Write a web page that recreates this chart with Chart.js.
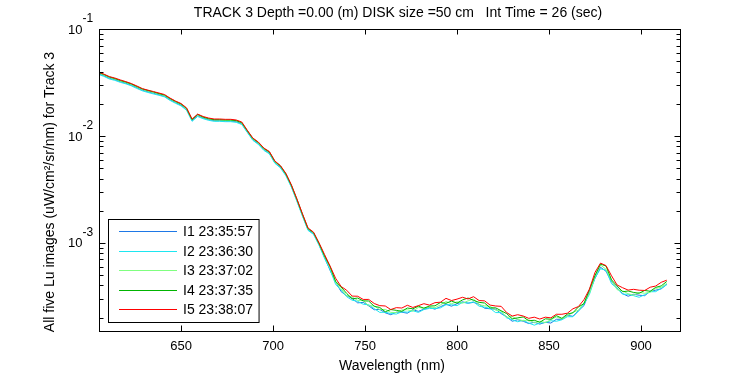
<!DOCTYPE html>
<html>
<head>
<meta charset="utf-8">
<script src="https://cdn.jsdelivr.net/npm/chart.js@4/dist/chart.umd.min.js"></script>
<style>
  html, body { margin: 0; padding: 0; background: #fff; }
</style>
</head>
<body>
<canvas id="chart" width="750" height="375"></canvas>
<script>
// wavelength grid (nm)
var wavelengths = [605, 608, 611, 614, 617, 620, 623, 626, 629, 632, 635, 638, 641, 644, 647, 650, 653, 656, 659, 662,
  665, 668, 671, 674, 677, 680, 683, 686, 689, 692, 695, 698, 701, 704, 707, 710, 713, 716, 719, 722,
  725, 728, 731, 734, 737, 740, 743, 746, 749, 752, 755, 758, 761, 764, 767, 770, 773, 776, 779, 782,
  785, 788, 791, 794, 797, 800, 803, 806, 809, 812, 815, 818, 821, 824, 827, 830, 833, 836, 839, 842,
  845, 848, 851, 854, 857, 860, 863, 866, 869, 872, 875, 878, 881, 884, 887, 890, 893, 896, 899, 902,
  905, 908, 911, 914];

var seriesLabels = ["I1 23:35:57", "I2 23:36:30", "I3 23:37:02", "I4 23:37:35", "I5 23:38:07"];
var seriesColors = ["#1e78e6", "#1ee6f0", "#80ff80", "#00b400", "#ff0000"];

var lu1 = [3.82e-2, 3.66e-2, 3.47e-2, 3.36e-2, 3.22e-2, 3.11e-2, 2.98e-2, 2.83e-2, 2.68e-2, 2.59e-2,
  2.51e-2, 2.43e-2, 2.35e-2, 2.19e-2, 2.05e-2, 1.94e-2, 1.76e-2, 1.39e-2, 1.55e-2, 1.47e-2,
  1.42e-2, 1.39e-2, 1.39e-2, 1.38e-2, 1.38e-2, 1.36e-2, 1.30e-2, 1.09e-2, 9.24e-3, 8.47e-3,
  7.45e-3, 6.90e-3, 5.63e-3, 5.11e-3, 4.30e-3, 3.36e-3, 2.48e-3, 1.80e-3, 1.33e-3, 1.22e-3,
  9.64e-4,
  7.33e-4, 5.55e-4, 4.32e-4, 3.50e-4, 3.21e-4, 3.03e-4, 2.75e-4, 2.78e-4, 2.58e-4, 2.37e-4,
  2.39e-4, 2.22e-4, 2.13e-4, 2.25e-4, 2.25e-4, 2.20e-4, 2.37e-4, 2.29e-4, 2.40e-4, 2.49e-4,
  2.40e-4, 2.53e-4, 2.67e-4, 2.56e-4, 2.70e-4, 2.81e-4, 2.73e-4, 2.78e-4, 2.67e-4, 2.45e-4,
  2.42e-4, 2.40e-4, 2.18e-4, 2.04e-4, 1.85e-4, 1.91e-4, 1.85e-4, 1.76e-4, 1.81e-4, 1.74e-4,
  1.81e-4, 1.78e-4, 1.93e-4, 1.93e-4, 2.10e-4, 2.06e-4, 2.32e-4, 2.59e-4, 3.49e-4, 4.66e-4,
  5.92e-4, 5.43e-4, 4.33e-4, 3.80e-4, 3.35e-4, 3.17e-4, 3.31e-4, 3.24e-4, 3.21e-4, 3.53e-4,
  3.61e-4, 3.72e-4, 4.10e-4];

var lu2 = [3.76e-2, 3.61e-2, 3.41e-2, 3.31e-2, 3.17e-2, 3.07e-2, 2.94e-2, 2.78e-2, 2.64e-2, 2.55e-2,
  2.47e-2, 2.40e-2, 2.32e-2, 2.15e-2, 2.02e-2, 1.91e-2, 1.74e-2, 1.37e-2, 1.52e-2, 1.45e-2,
  1.40e-2, 1.37e-2, 1.37e-2, 1.36e-2, 1.36e-2, 1.34e-2, 1.28e-2, 1.08e-2, 9.10e-3, 8.34e-3,
  7.33e-3, 6.80e-3, 5.55e-3, 5.03e-3, 4.24e-3, 3.31e-3, 2.44e-3, 1.78e-3, 1.31e-3, 1.20e-3,
  9.50e-4,
  7.18e-4, 5.61e-4, 4.10e-4, 3.61e-4, 3.14e-4, 2.91e-4, 2.84e-4, 2.67e-4, 2.64e-4, 2.43e-4,
  2.24e-4, 2.25e-4, 2.18e-4, 2.16e-4, 2.27e-4, 2.25e-4, 2.32e-4, 2.24e-4, 2.38e-4, 2.44e-4,
  2.43e-4, 2.47e-4, 2.64e-4, 2.64e-4, 2.59e-4, 2.78e-4, 2.73e-4, 2.81e-4, 2.56e-4, 2.50e-4,
  2.44e-4, 2.23e-4, 2.23e-4, 1.99e-4, 1.91e-4, 1.83e-4, 1.89e-4, 1.78e-4, 1.70e-4, 1.78e-4,
  1.80e-4, 1.87e-4, 1.85e-4, 1.91e-4, 2.04e-4, 2.04e-4, 2.30e-4, 2.67e-4, 3.31e-4, 4.71e-4,
  5.73e-4, 5.55e-4, 4.15e-4, 3.76e-4, 3.31e-4, 3.31e-4, 3.21e-4, 3.10e-4, 3.28e-4, 3.49e-4,
  3.50e-4, 3.76e-4, 4.06e-4];

var lu3 = [3.88e-2, 3.72e-2, 3.52e-2, 3.41e-2, 3.27e-2, 3.16e-2, 3.03e-2, 2.87e-2, 2.72e-2, 2.63e-2,
  2.55e-2, 2.47e-2, 2.39e-2, 2.22e-2, 2.08e-2, 1.97e-2, 1.79e-2, 1.41e-2, 1.57e-2, 1.49e-2,
  1.44e-2, 1.41e-2, 1.41e-2, 1.40e-2, 1.40e-2, 1.38e-2, 1.32e-2, 1.11e-2, 9.38e-3, 8.60e-3,
  7.56e-3, 7.01e-3, 5.72e-3, 5.19e-3, 4.37e-3, 3.41e-3, 2.52e-3, 1.83e-3, 1.35e-3, 1.24e-3,
  9.79e-4,
  7.48e-4, 5.90e-4, 4.28e-4, 3.72e-4, 3.21e-4, 3.12e-4, 2.90e-4, 2.90e-4, 2.58e-4, 2.58e-4,
  2.37e-4, 2.39e-4, 2.24e-4, 2.23e-4, 2.36e-4, 2.37e-4, 2.30e-4, 2.49e-4, 2.45e-4, 2.52e-4,
  2.48e-4, 2.63e-4, 2.83e-4, 2.70e-4, 2.81e-4, 2.73e-4, 2.87e-4, 2.99e-4, 2.64e-4, 2.58e-4,
  2.55e-4, 2.35e-4, 2.30e-4, 2.01e-4, 2.05e-4, 1.93e-4, 1.87e-4, 1.91e-4, 1.79e-4, 1.85e-4,
  1.80e-4, 1.91e-4, 2.03e-4, 1.95e-4, 2.08e-4, 2.24e-4, 2.35e-4, 2.75e-4, 3.38e-4, 4.86e-4,
  6.22e-4, 5.66e-4, 4.46e-4, 3.65e-4, 3.56e-4, 3.35e-4, 3.24e-4, 3.44e-4, 3.38e-4, 3.46e-4,
  3.76e-4, 3.84e-4, 4.19e-4];

var lu4 = [3.92e-2, 3.76e-2, 3.56e-2, 3.44e-2, 3.30e-2, 3.19e-2, 3.06e-2, 2.90e-2, 2.75e-2, 2.66e-2,
  2.58e-2, 2.49e-2, 2.41e-2, 2.24e-2, 2.10e-2, 1.99e-2, 1.81e-2, 1.42e-2, 1.59e-2, 1.50e-2,
  1.45e-2, 1.42e-2, 1.42e-2, 1.41e-2, 1.41e-2, 1.39e-2, 1.33e-2, 1.12e-2, 9.47e-3, 8.69e-3,
  7.64e-3, 7.08e-3, 5.78e-3, 5.24e-3, 4.41e-3, 3.44e-3, 2.55e-3, 1.85e-3, 1.36e-3, 1.25e-3,
  9.89e-4,
  7.56e-4, 6.02e-4, 4.37e-4, 3.87e-4, 3.37e-4, 3.00e-4, 3.05e-4, 2.87e-4, 2.86e-4, 2.55e-4,
  2.49e-4, 2.27e-4, 2.38e-4, 2.34e-4, 2.29e-4, 2.46e-4, 2.42e-4, 2.56e-4, 2.45e-4, 2.57e-4,
  2.58e-4, 2.77e-4, 2.72e-4, 2.86e-4, 2.73e-4, 2.93e-4, 3.05e-4, 2.90e-4, 2.78e-4, 2.74e-4,
  2.47e-4, 2.47e-4, 2.32e-4, 2.18e-4, 1.95e-4, 1.99e-4, 2.03e-4, 1.87e-4, 1.89e-4, 1.81e-4,
  1.95e-4, 1.93e-4, 2.09e-4, 1.97e-4, 2.16e-4, 2.22e-4, 2.52e-4, 2.70e-4, 3.67e-4, 4.96e-4,
  6.34e-4, 6.07e-4, 4.51e-4, 3.96e-4, 3.49e-4, 3.55e-4, 3.44e-4, 3.38e-4, 3.59e-4, 3.53e-4,
  3.84e-4, 3.96e-4, 4.36e-4];

var lu5 = [3.96e-2, 3.79e-2, 3.59e-2, 3.48e-2, 3.34e-2, 3.22e-2, 3.09e-2, 2.93e-2, 2.77e-2, 2.68e-2,
  2.60e-2, 2.52e-2, 2.44e-2, 2.26e-2, 2.12e-2, 2.01e-2, 1.83e-2, 1.44e-2, 1.60e-2, 1.52e-2,
  1.47e-2, 1.44e-2, 1.44e-2, 1.43e-2, 1.43e-2, 1.41e-2, 1.35e-2, 1.13e-2, 9.57e-3, 8.77e-3,
  7.71e-3, 7.15e-3, 5.83e-3, 5.29e-3, 4.46e-3, 3.48e-3, 2.57e-3, 1.87e-3, 1.38e-3, 1.26e-3,
  1.00e-3,
  7.79e-4, 6.07e-4, 4.67e-4, 3.91e-4, 3.61e-4, 3.18e-4, 3.17e-4, 2.96e-4, 2.96e-4, 2.71e-4,
  2.59e-4, 2.57e-4, 2.38e-4, 2.48e-4, 2.46e-4, 2.61e-4, 2.49e-4, 2.59e-4, 2.70e-4, 2.62e-4,
  2.76e-4, 2.79e-4, 3.03e-4, 2.89e-4, 2.98e-4, 3.10e-4, 2.99e-4, 3.14e-4, 2.89e-4, 2.87e-4,
  2.62e-4, 2.57e-4, 2.55e-4, 2.23e-4, 2.07e-4, 2.13e-4, 2.07e-4, 1.97e-4, 2.02e-4, 1.94e-4,
  2.02e-4, 1.99e-4, 2.15e-4, 2.15e-4, 2.20e-4, 2.42e-4, 2.54e-4, 2.94e-4, 3.70e-4, 5.30e-4,
  6.47e-4, 6.13e-4, 4.92e-4, 4.04e-4, 3.81e-4, 3.62e-4, 3.68e-4, 3.61e-4, 3.59e-4, 3.85e-4,
  3.95e-4, 4.28e-4, 4.48e-4];

var xTicks = [650, 700, 750, 800, 850, 900];
var yMajorTicks = [1e-3, 1e-2, 1e-1];
var yExponents = ["-3", "-2", "-1"];
var yMinorTicks = [2e-4, 3e-4, 4e-4, 5e-4, 6e-4, 7e-4, 8e-4, 9e-4,
  2e-3, 3e-3, 4e-3, 5e-3, 6e-3, 7e-3, 8e-3, 9e-3,
  2e-2, 3e-2, 4e-2, 5e-2, 6e-2, 7e-2, 8e-2, 9e-2];

var titleText = "TRACK 3 Depth =0.00 (m) DISK size =50 cm   Int Time = 26 (sec)";
var xTitle = "Wavelength (nm)";
var yTitle = "All five Lu images (uW/cm\u00b2/sr/nm) for Track 3";

var FONT = '"Liberation Sans", Arial, Helvetica, sans-serif';

function toPoints(values) {
  return wavelengths.map(function (w, i) {
    return { x: w, y: values[i] };
  });
}

// MATLAB-like box axes with inward ticks, labels and legend
var matlabAxes = {
  id: "matlabAxes",
  beforeDraw: function (chart) {
    var ctx = chart.ctx;
    ctx.save();
    ctx.fillStyle = "#fff";
    ctx.fillRect(0, 0, chart.width, chart.height);
    ctx.restore();
  },
  afterDraw: function (chart) {
    var ctx = chart.ctx;
    var a = chart.chartArea;
    var xs = chart.scales.x;
    var ys = chart.scales.y;
    var L = Math.round(a.left) + 0.5;
    var R = Math.round(a.right) + 0.5;
    var T = Math.round(a.top) + 0.5;
    var B = Math.round(a.bottom) + 0.5;

    ctx.save();
    ctx.strokeStyle = "#000";
    ctx.lineWidth = 1;
    ctx.strokeRect(L, T, R - L, B - T);

    ctx.beginPath();
    xTicks.forEach(function (v) {
      var px = Math.round(xs.getPixelForValue(v)) + 0.5;
      ctx.moveTo(px, B); ctx.lineTo(px, B - 6);
      ctx.moveTo(px, T); ctx.lineTo(px, T + 5);
    });
    yMajorTicks.forEach(function (v) {
      var py = Math.round(ys.getPixelForValue(v)) + 0.5;
      ctx.moveTo(L, py); ctx.lineTo(L + 6, py);
      ctx.moveTo(R, py); ctx.lineTo(R - 6, py);
    });
    yMinorTicks.forEach(function (v) {
      var py = Math.round(ys.getPixelForValue(v)) + 0.5;
      ctx.moveTo(L, py); ctx.lineTo(L + 4, py);
      ctx.moveTo(R, py); ctx.lineTo(R - 4, py);
    });
    ctx.stroke();

    ctx.fillStyle = "#000";
    ctx.textBaseline = "middle";

    // x tick labels
    ctx.font = "13px " + FONT;
    ctx.textAlign = "center";
    xTicks.forEach(function (v) {
      ctx.fillText(String(v), xs.getPixelForValue(v), B + 15);
    });

    // y tick labels 10^n
    yMajorTicks.forEach(function (v, i) {
      var py = ys.getPixelForValue(v);
      ctx.font = "13px " + FONT;
      ctx.textAlign = "right";
      ctx.fillText("10", L - 17, py + 1);
      ctx.font = "12px " + FONT;
      ctx.textAlign = "left";
      ctx.fillText(yExponents[i], L - 17, py - 10);
    });

    // titles
    ctx.font = "14px " + FONT;
    ctx.textAlign = "center";
    ctx.fillText(titleText, 398, 13);
    ctx.fillText(xTitle, 392, 366);

    ctx.save();
    ctx.translate(50, 192);
    ctx.rotate(-Math.PI / 2);
    ctx.fillText(yTitle, 0, 0);
    ctx.restore();

    // legend
    ctx.font = "14px " + FONT;
    var maxW = 0;
    chart.data.datasets.forEach(function (ds) {
      maxW = Math.max(maxW, ctx.measureText(ds.label).width);
    });
    var bx = 108.5, by = 219.5, bw = 183 + maxW + 6 - bx, bh = 103;
    ctx.fillStyle = "#fff";
    ctx.fillRect(bx, by, bw, bh);
    ctx.strokeStyle = "#000";
    ctx.strokeRect(bx, by, bw, bh);
    chart.data.datasets.forEach(function (ds, i) {
      var ry = Math.round(231 + i * 19.5) + 0.5;
      ctx.strokeStyle = ds.borderColor;
      ctx.beginPath();
      ctx.moveTo(119, ry);
      ctx.lineTo(177, ry);
      ctx.stroke();
      ctx.fillStyle = "#000";
      ctx.textAlign = "left";
      ctx.fillText(ds.label, 183, ry + 1);
    });
    ctx.restore();
  }
};

var seriesValues = [lu1, lu2, lu3, lu4, lu5];

new Chart(document.getElementById("chart"), {
  type: "line",
  data: {
    datasets: seriesValues.map(function (vals, i) {
      return {
        label: seriesLabels[i],
        data: toPoints(vals),
        borderColor: seriesColors[i],
        borderWidth: 1,
        pointRadius: 0,
        fill: false,
        tension: 0,
        order: 5 - i
      };
    })
  },
  options: {
    responsive: false,
    animation: false,
    devicePixelRatio: 1,
    layout: { padding: { left: 99, right: 70, top: 29, bottom: 44 } },
    plugins: {
      legend: { display: false },
      tooltip: { enabled: false },
      title: { display: false }
    },
    scales: {
      x: { type: "linear", min: 605.4, max: 921.2, display: false },
      y: { type: "logarithmic", min: 1.5e-4, max: 0.1, display: false }
    }
  },
  plugins: [matlabAxes]
});
</script>
</body>
</html>
